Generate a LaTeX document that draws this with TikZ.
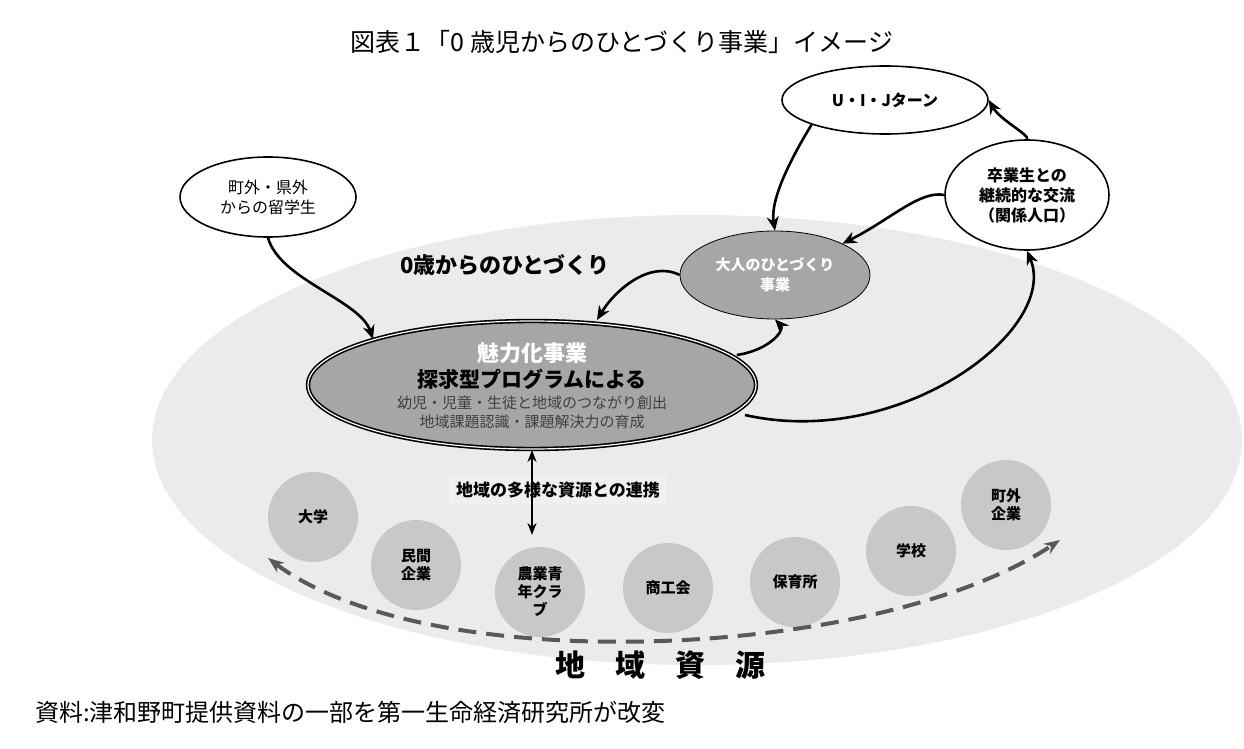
\documentclass[tikz,border=0pt]{standalone}
\usepackage{fontspec}
\setmainfont{Noto Sans CJK JP}
\usetikzlibrary{arrows.meta,shapes.geometric}
\definecolor{bg}{HTML}{EBEBEB}
\definecolor{nodeg}{HTML}{A6A6A6}
\definecolor{circg}{HTML}{C8C8C8}
\begin{document}
\begin{tikzpicture}[x=0.5pt,y=-0.5pt,
 wnode/.style={ellipse,draw,thick,fill=white,align=center,font=\fontsize{8}{10}\selectfont,inner sep=0pt},
 circ/.style={circle,fill=circg,minimum size=45pt,inner sep=0pt,align=center,font=\bfseries\fontsize{7.5}{9}\selectfont},
 arr/.style={-{Stealth[length=7pt,width=6pt]},line width=1.3pt}]
\useasboundingbox (0,0) rectangle (1244,749);
\node (title) at (622,42) {\fontsize{12.5}{14}\selectfont 図表１「0 歳児からのひとづくり事業」イメージ};
\node (big) [ellipse,fill=bg,minimum width=545pt,minimum height=225pt] at (697,440) {};
\node (lbl0) at (505,265) {\bfseries\fontsize{11}{13}\selectfont 0歳からのひとづくり};
\node (ryu) [wnode,minimum width=88pt,minimum height=40pt] at (268,197) {町外・県外\\からの留学生};
\node (uij) [wnode,minimum width=103pt,minimum height=34pt] at (885,100) {\bfseries U・I・Jターン};
\node (sotsu) [wnode,minimum width=82pt,minimum height=55pt] at (1027,195) {\bfseries 卒業生との\\\bfseries 継続的な交流\\\bfseries （関係人口）};
\node (otona) [ellipse,draw,fill=nodeg,minimum width=95pt,minimum height=44pt,text=white,align=center,font=\bfseries\fontsize{7.5}{10}\selectfont] at (775,275) {大人のひとづくり\\事業};
\node (main) [ellipse,draw,double,thick,fill=nodeg,minimum width=224pt,minimum height=64pt] at (532,385) {};
\node (t1) at (532,353) {\bfseries\color{white}\fontsize{11}{13}\selectfont 魅力化事業};
\node (t2) at (532,379) {\bfseries\fontsize{10.5}{12}\selectfont 探求型プログラムによる};
\node (t3) at (532,403) {\fontsize{7.5}{9}\selectfont\color{black!75} 幼児・児童・生徒と地域のつながり創出};
\node (t4) at (532,422) {\fontsize{7.5}{9}\selectfont\color{black!75} 地域課題認識・課題解決力の育成};
\node (ren) [fill=black!6,font=\bfseries\fontsize{8.5}{10}\selectfont] at (558,490) {地域の多様な資源との連携};
\coordinate (da) at (532,450);
\coordinate (db) at (532,535);
\draw[{Stealth[length=6pt]}-{Stealth[length=6pt]},line width=1.2pt] (da) -- (db);
\node (c1) [circ] at (313,517) {大学};
\node (c2) [circ] at (416,565) {民間\\企業};
\node (c3) [circ] at (540,592) {農業青\\年クラ\\ブ};
\node (c4) [circ] at (668,588) {商工会};
\node (c5) [circ] at (795,582) {保育所};
\node (c6) [circ] at (911,551) {学校};
\node (c7) [circ] at (1006,505) {町外\\企業};
\coordinate (dl) at (268,558);
\coordinate (dr) at (1060,540);
\draw[{Stealth[length=8pt]}-{Stealth[length=8pt]},line width=2pt,dashed,dash pattern=on 9pt off 5pt,color=black!65] (dl) .. controls (430,680) and (880,660) .. (dr);
\node (chi) at (660,665) {\bfseries\fontsize{15}{17}\selectfont 地　域　資　源};
\node (src) [anchor=west] at (28,712) {\fontsize{12}{14}\selectfont 資料:津和野町提供資料の一部を第一生命経済研究所が改変};
\draw[arr] (ryu.south) .. controls (280,280) and (360,300) .. (main.north west);
\draw[arr] (uij.south west) .. controls (790,160) and (770,200) .. (otona.north);
\draw[arr] (sotsu.west) .. controls (920,190) and (890,220) .. (otona.north east);
\draw[arr] (sotsu.north) .. controls (1030,135) and (1000,120) .. (uij.east);
\draw[arr] (otona.west) .. controls (650,260) and (615,290) .. (597,320);
\draw[arr] (main.east) ++(-20,-30) coordinate (me) (me) .. controls (770,350) and (785,330) .. (otona.south);
\draw[arr] (745,415) .. controls (900,450) and (1060,330) .. (sotsu.south);
\end{tikzpicture}
\end{document}
